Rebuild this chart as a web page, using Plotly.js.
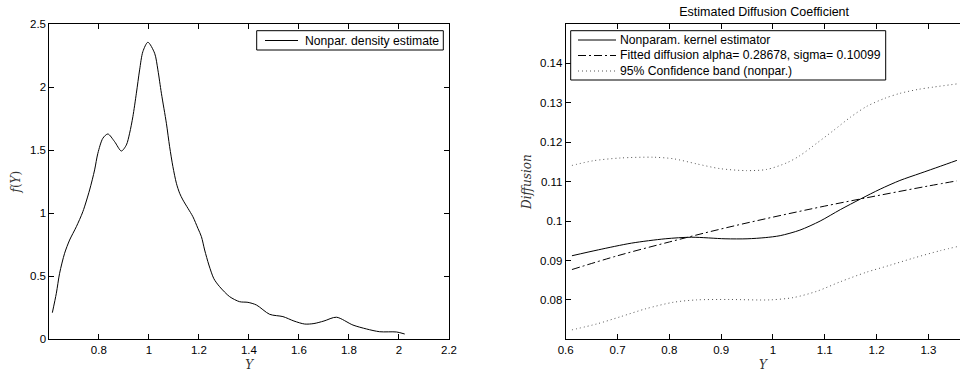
<!DOCTYPE html>
<html>
<head>
<meta charset="utf-8">
<script src="https://cdn.plot.ly/plotly-3.0.1.min.js"></script>
<style>html,body{margin:0;padding:0;background:#fff}#chart{width:960px;height:372px}</style>
</head>
<body>
<div id="chart"></div>
<script>
// Left panel: nonparametric density estimate
const densX = [0.614,0.630,0.643,0.663,0.683,0.710,0.736,0.763,0.783,0.796,0.816,0.836,0.863,0.890,0.910,0.923,0.936,0.950,0.963,0.976,0.996,1.023,1.036,1.050,1.070,1.083,1.096,1.110,1.123,1.136,1.156,1.176,1.196,1.210,1.223,1.240,1.260,1.283,1.323,1.363,1.396,1.430,1.483,1.536,1.580,1.623,1.660,1.700,1.750,1.816,1.870,1.923,1.990,2.023];
const densY = [0.211,0.365,0.523,0.682,0.787,0.893,1.012,1.184,1.343,1.475,1.594,1.628,1.567,1.493,1.541,1.634,1.765,1.951,2.136,2.281,2.355,2.268,2.136,1.951,1.713,1.527,1.369,1.237,1.158,1.105,1.039,0.972,0.880,0.814,0.708,0.589,0.480,0.417,0.338,0.298,0.293,0.272,0.198,0.180,0.145,0.121,0.125,0.145,0.175,0.113,0.082,0.060,0.058,0.042];
const leftXTicks = [0.8,1,1.2,1.4,1.6,1.8,2,2.2];
const leftYTicks = [0,0.5,1,1.5,2,2.5];

// Right panel: diffusion coefficient
const kernX = [0.612,0.663,0.727,0.792,0.843,0.9075,0.950,0.985,1.014,1.052,1.091,1.130,1.169,1.207,1.245,1.284,1.323,1.355];
const kernY = [0.0912,0.0927,0.0944,0.0955,0.0959,0.0955,0.0955,0.0958,0.0963,0.0977,0.1000,0.1029,0.1056,0.1081,0.1103,0.1121,0.1139,0.1154];
const fitX = [0.612,0.7,0.8,0.9,1.0,1.1,1.2,1.3,1.355];
const fitY = [0.0877,0.0912,0.0947,0.0980,0.1010,0.1038,0.1064,0.1089,0.1102];
const upX = [0.612,0.653,0.705,0.769,0.808,0.853,0.898,0.949,0.988,1.027,1.052,1.085,1.117,1.150,1.181,1.215,1.245,1.280,1.310,1.355];
const upY = [0.1141,0.1153,0.1160,0.1162,0.1158,0.1145,0.1133,0.1128,0.1131,0.1148,0.1166,0.1198,0.1230,0.1264,0.1291,0.1311,0.1324,0.1334,0.1340,0.1348];
const loX = [0.612,0.660,0.705,0.756,0.808,0.853,0.917,0.994,1.040,1.085,1.130,1.180,1.226,1.271,1.323,1.355];
const loY = [0.0724,0.0739,0.0757,0.0778,0.0794,0.0800,0.0801,0.0800,0.0806,0.0822,0.0846,0.0870,0.0888,0.0906,0.0925,0.0935];
const rightXTicks = [0.6,0.7,0.8,0.9,1,1.1,1.2,1.3];
const rightYTicks = [0.08,0.09,0.1,0.11,0.12,0.13,0.14];

const leftLegend = ['Nonpar. density estimate'];
const rightLegend = ['Nonparam. kernel estimator', 'Fitted diffusion alpha= 0.28678, sigma= 0.10099', '95% Confidence band (nonpar.)'];

const styles = {
  solid: {color: '#000', width: 1},
  dashdot: {color: '#000', width: 1, dash: '8px,3px,2px,3px'},
  dot: {color: '#555', width: 1, dash: '1px,3px'}
};

const traces = [
  {x: densX, y: densY, type: 'scatter', mode: 'lines', name: leftLegend[0],
   line: Object.assign({shape: 'spline', smoothing: 0.8}, styles.solid), xaxis: 'x', yaxis: 'y'},
  {x: kernX, y: kernY, type: 'scatter', mode: 'lines', name: rightLegend[0],
   line: Object.assign({shape: 'spline', smoothing: 0.8}, styles.solid), xaxis: 'x2', yaxis: 'y2'},
  {x: fitX, y: fitY, type: 'scatter', mode: 'lines', name: rightLegend[1],
   line: Object.assign({shape: 'spline'}, styles.dashdot), xaxis: 'x2', yaxis: 'y2'},
  {x: upX, y: upY, type: 'scatter', mode: 'lines', name: rightLegend[2],
   line: Object.assign({shape: 'spline', smoothing: 0.8}, styles.dot), xaxis: 'x2', yaxis: 'y2'},
  {x: loX, y: loY, type: 'scatter', mode: 'lines', name: rightLegend[2],
   line: Object.assign({shape: 'spline', smoothing: 0.8}, styles.dot), xaxis: 'x2', yaxis: 'y2'}
];

const W = 960, H = 372;
const px = v => v / W, py = v => 1 - v / H;
const tickFont = {family: 'Liberation Sans, Arial, sans-serif', size: 11.5, color: '#000'};
const legendFont = {family: 'Liberation Sans, Arial, sans-serif', size: 12.2, color: '#000'};
const titleFont = {family: 'DejaVu Serif, Liberation Serif, serif', size: 12, color: '#333'};
const baseAxis = {showline: true, linecolor: '#000', linewidth: 1, ticks: 'inside', ticklen: 5, tickcolor: '#000',
  showgrid: false, zeroline: false, tickfont: tickFont};

// Legend boxes drawn as shapes + text annotations (MATLAB-style compact legends)
const shapes = [], annotations = [];
function addLegend(box, sampleX0, sampleX1, textX, rowsY, labels, lineStyles) {
  shapes.push({type: 'rect', xref: 'paper', yref: 'paper', x0: px(box[0]), x1: px(box[1]), y0: py(box[3]), y1: py(box[2]),
    line: {color: '#000', width: 1}, fillcolor: '#fff', layer: 'above'});
  labels.forEach((lab, i) => {
    shapes.push({type: 'line', xref: 'paper', yref: 'paper', x0: px(sampleX0), x1: px(sampleX1), y0: py(rowsY[i]), y1: py(rowsY[i]),
      line: lineStyles[i], layer: 'above'});
    annotations.push({xref: 'paper', yref: 'paper', x: px(textX), y: py(rowsY[i]), xanchor: 'left', yanchor: 'middle',
      text: lab, showarrow: false, font: legendFont, borderpad: 0});
  });
}
addLegend([256.7, 443.3, 30.7, 50], 265, 298, 304, [40.5], leftLegend, [styles.solid]);
addLegend([570.7, 885.7, 30.7, 80], 578, 616, 619, [40, 55.5, 71], rightLegend, [styles.solid, styles.dashdot, styles.dot]);

const layout = {
  width: W, height: H,
  margin: {l: 0, r: 0, t: 0, b: 0},
  paper_bgcolor: '#fff', plot_bgcolor: '#fff',
  font: tickFont,
  showlegend: false,
  title: {text: 'Estimated Diffusion Coefficient', x: 0.796, xanchor: 'center', y: 0.97, yanchor: 'middle',
    font: {family: 'Liberation Sans, Arial, sans-serif', size: 12.5, color: '#000'}},
  xaxis: Object.assign({}, baseAxis, {domain: [0.0514, 0.4677], range: [0.602, 2.2], tickvals: leftXTicks,
    mirror: 'ticks', anchor: 'y',
    title: {text: '<i>Y</i>', font: titleFont, standoff: 5}}),
  yaxis: Object.assign({}, baseAxis, {domain: [0.0879, 0.9355], range: [0, 2.5], tickvals: leftYTicks,
    mirror: 'ticks', anchor: 'x',
    title: {text: '<i>f</i>(<i>Y</i>)', font: titleFont, standoff: 6}}),
  xaxis2: Object.assign({}, baseAxis, {domain: [0.5893, 1.0], range: [0.6, 1.361], tickvals: rightXTicks,
    mirror: 'ticks', anchor: 'y2',
    title: {text: '<i>Y</i>', font: titleFont, standoff: 5}}),
  yaxis2: Object.assign({}, baseAxis, {domain: [0.0879, 0.9355], range: [0.07, 0.15], tickvals: rightYTicks,
    mirror: false, anchor: 'x2',
    title: {text: '<i>Diffusion</i>', font: titleFont, standoff: 5}}),
  shapes: shapes,
  annotations: annotations
};

Plotly.newPlot('chart', traces, layout, {displayModeBar: false, staticPlot: true});
</script>
</body>
</html>
